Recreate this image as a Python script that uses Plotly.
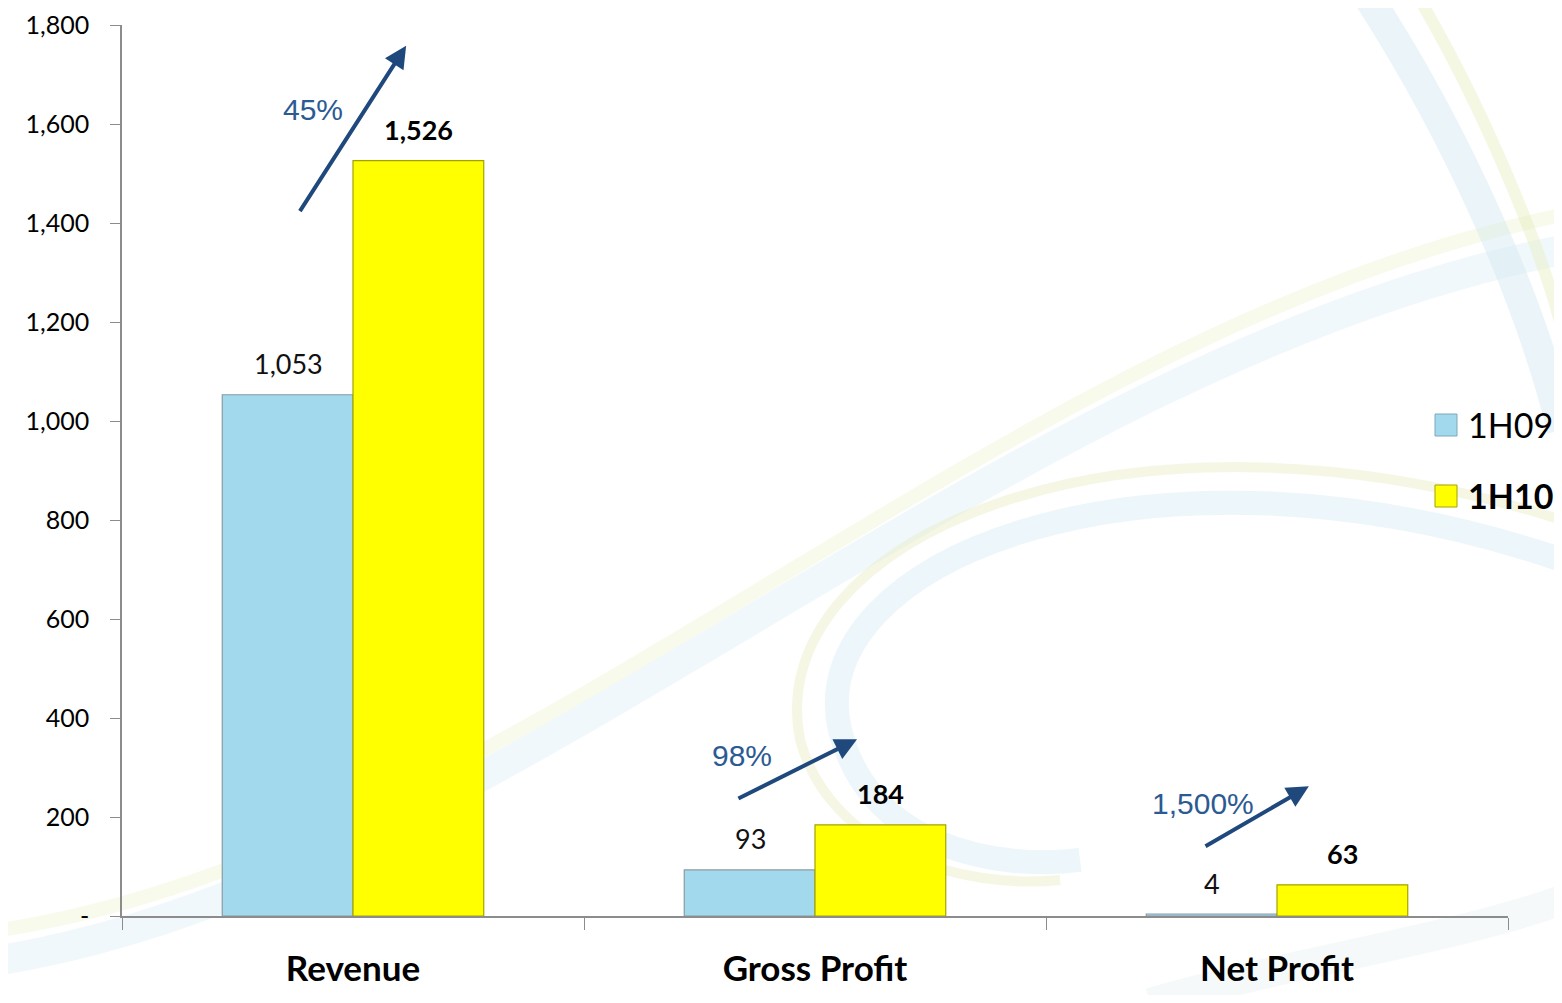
import plotly.graph_objects as go

categories = ["Revenue", "Gross Profit", "Net Profit"]
h09 = [1053, 93, 4]
h10 = [1526, 184, 63]
series_names = ["1H09", "1H10"]
growth_labels = ["45%", "98%", "1,500%"]
y_ticks = [0, 200, 400, 600, 800, 1000, 1200, 1400, 1600, 1800]
y_tick_text = ["-", "200", "400", "600", "800", "1,000", "1,200", "1,400", "1,600", "1,800"]

# page has an 8px body margin; figure sized so plot area lands at page x 122..1508, y 25..916
W, H = 1546, 987
L, R, T, B = 114, 46, 17, 79
PL, PR, PT, PB = 122, 1508, 25, 916  # plot area in page pixels

def px(x, y):
    return (x - PL) / (PR - PL), (PB - y) / (PB - PT)

FONT = "Lato, Open Sans, sans-serif"
C09, C10 = "#A2D9EC", "#FFFF00"
BAR_OFF = 0.1407  # half bar width in category units (for label placement)

fig = go.Figure()
fig.add_trace(go.Bar(
    name=series_names[0], x=categories, y=h09, showlegend=False,
    marker=dict(color=C09, line=dict(color="#8A9BA3", width=1.2)),
))
fig.add_trace(go.Bar(
    name=series_names[1], x=categories, y=h10, showlegend=False,
    marker=dict(color=C10, line=dict(color="#A3A300", width=1.2)),
))

# value labels
for i, (a, b) in enumerate(zip(h09, h10)):
    fig.add_annotation(x=i - BAR_OFF, y=a, xref="x", yref="y", text=f"{a:,}",
                       showarrow=False, yanchor="middle", yshift=31,
                       font=dict(family=FONT, size=27, color="#111111"))
    fig.add_annotation(x=i + BAR_OFF, y=b, xref="x", yref="y", text=f"<b>{b:,}</b>",
                       showarrow=False, yanchor="middle", yshift=31,
                       font=dict(family=FONT, size=27, color="#000000"))

# background decorative swooshes
shapes = []
def path_px(pts_cmd):
    out = []
    for tok in pts_cmd:
        if isinstance(tok, str):
            out.append(tok)
        else:
            a, b = px(*tok)
            out.append(f"{a:.4f},{b:.4f}")
    return " ".join(out)

swooshes = [
    (["M", (0, 960), "C", (500, 880), (1000, 360), (1562, 250)], "#D4EBF4", 30, 0.3),
    (["M", (0, 930), "C", (520, 850), (1000, 330), (1562, 215)], "#E9EFC0", 14, 0.3),
    (["M", (1562, 560), "C", (1150, 420), (800, 560), (840, 730), "C", (870, 850), (1000, 870), (1080, 860)], "#CDE6F1", 24, 0.35),
    (["M", (1562, 520), "C", (1120, 380), (760, 540), (800, 740), "C", (830, 850), (960, 890), (1060, 880)], "#E3EBB5", 10, 0.35),
    (["M", (1370, 0), "C", (1460, 140), (1530, 300), (1562, 430)], "#CFE8F2", 30, 0.4),
    (["M", (1420, 0), "C", (1490, 120), (1545, 260), (1562, 330)], "#E6EDB8", 12, 0.4),
    (["M", (1150, 1003), "C", (1300, 960), (1450, 940), (1562, 900)], "#E4EEF3", 30, 0.35),
]
for cmd, col, wdt, op in swooshes:
    shapes.append(dict(type="path", xref="paper", yref="paper", path=path_px(cmd),
                       line=dict(color=col, width=wdt), opacity=op, layer="below"))

# manual legend (large square swatches)
legend_items = [(series_names[0], C09, "#7FA9B8", 425, False),
                (series_names[1], C10, "#A3A300", 496, True)]
for name, fill, edge, cy, bold in legend_items:
    x0, y0 = px(1435, cy - 11)
    x1, y1 = px(1457, cy + 11)
    shapes.append(dict(type="rect", xref="paper", yref="paper", x0=x0, x1=x1, y0=y0, y1=y1,
                       fillcolor=fill, line=dict(color=edge, width=1)))
    tx, ty = px(1466, cy)
    fig.add_annotation(x=tx, y=ty, xref="paper", yref="paper", xanchor="left", yanchor="middle",
                       text=f"<b>{name}</b>" if bold else name, showarrow=False,
                       font=dict(family=FONT, size=34, color="#000000"))
fig.update_layout(shapes=shapes)

# growth arrows (category index offsets, data y)
arrow_specs = [
    (0, -0.117, 1421, 0.115, 1758),
    (1, -0.169, 236, 0.091, 357),
    (2, -0.158, 139, 0.069, 262),
]
label_pos = [(0, -0.087, 1630), (1, -0.158, 325), (2, -0.160, 228)]
for (ci, x0, y0, x1, y1) in arrow_specs:
    fig.add_annotation(x=ci + x1, y=y1, ax=ci + x0, ay=y0, xref="x", yref="y",
                       axref="x", ayref="y", showarrow=True, arrowhead=2,
                       arrowsize=1.1, arrowwidth=4, arrowcolor="#1F497D", text="")
for (ci, xo, yv), lab in zip(label_pos, growth_labels):
    fig.add_annotation(x=ci + xo, y=yv, xref="x", yref="y", text=lab, showarrow=False,
                       font=dict(family="Liberation Sans, Arial, sans-serif", size=30, color="#2C5A92"))

fig.update_layout(
    width=W, height=H,
    margin=dict(l=L, r=R, t=T, b=B, autoexpand=False),
    paper_bgcolor="white", plot_bgcolor="rgba(0,0,0,0)",
    barmode="group", bargap=0.434, bargroupgap=0,
    font=dict(family=FONT, color="#000000"),
    showlegend=False,
)
fig.update_xaxes(
    type="category", showline=True, linecolor="#8C8C8C", linewidth=1.5,
    ticks="outside", tickson="boundaries", ticklen=12, tickcolor="#8C8C8C",
    tickfont=dict(family=FONT, size=35, color="#000000"),
    ticklabelstandoff=21, showgrid=False, range=[-0.5, 2.5],
    tickprefix="<b>", ticksuffix="</b>", automargin=False,
    ticklabeloverflow="allow",
)
fig.update_yaxes(
    range=[0, 1800], tickvals=y_ticks, ticktext=y_tick_text,
    showline=True, linecolor="#8C8C8C", linewidth=1.5,
    ticks="outside", ticklen=10, tickcolor="#8C8C8C",
    tickfont=dict(family=FONT, size=25, color="#000000"),
    showgrid=False, zeroline=False, ticklabelstandoff=16, automargin=False,
    ticklabeloverflow="allow",
)

fig.write_html("out.html")
